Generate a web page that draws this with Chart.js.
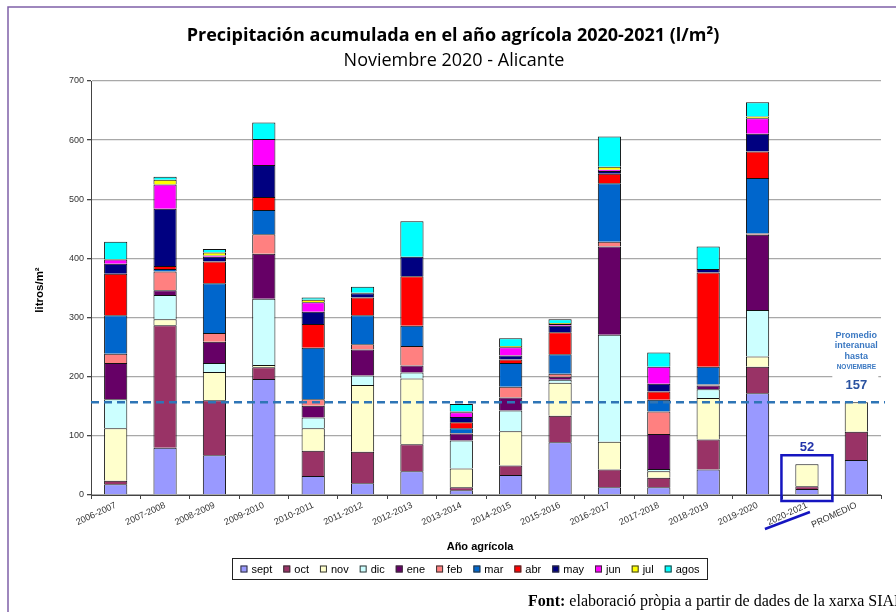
<!DOCTYPE html>
<html>
<head>
<meta charset="utf-8">
<script src="https://cdn.jsdelivr.net/npm/chart.js@4.4.1/dist/chart.umd.min.js"></script>
<style>
html,body{margin:0;padding:0;background:#fff;}
canvas{display:block;}
</style>
</head>
<body>
<canvas id="c" width="896" height="612"></canvas>
<script>
// ---- DATA ----
const categories = ['2006-2007','2007-2008','2008-2009','2009-2010','2010-2011','2011-2012','2012-2013','2013-2014','2014-2015','2015-2016','2016-2017','2017-2018','2018-2019','2019-2020','2020-2021','PROMEDIO'];
const months = ['sept','oct','nov','dic','ene','feb','mar','abr','may','jun','jul','agos'];
const sept = [18, 80, 67, 196, 32, 20, 40, 8, 34, 89, 13, 13, 43, 172, 10, 59];
const oct  = [6, 207, 93, 20, 43, 53, 46, 5, 16, 45, 30, 16, 51, 45, 5, 48];
const nov  = [89, 10, 48, 4, 38, 113, 111, 32, 58, 56, 47, 11, 70, 17, 37, 50];
const dic  = [49, 41, 15, 112, 18, 16, 10, 47, 35, 5, 181, 4, 15, 79, null, null];
const ene  = [61, 8, 36, 76, 20, 44, 12, 12, 22, 5, 149, 59, 6, 127, null, null];
const feb  = [16, 32, 15, 33, 11, 9, 33, 1, 18, 5, 8, 38, 2, 2, null, null];
const mar  = [65, 4, 84, 41, 87, 49, 34, 8, 40, 33, 99, 20, 30, 94, null, null];
const abr  = [70, 5, 37, 22, 40, 30, 84, 10, 6, 37, 16, 14, 159, 45, null, null];
const may  = [17, 97, 8, 54, 21, 7, 33, 9, 7, 11, 5, 13, 6, 30, null, null];
const jun  = [7, 41, 2, 44, 16, 1, 0, 8, 14, 3, 2, 29, 0, 26, null, null];
const jul  = [1, 8, 5, 0, 4, 0, 0, 1, 2, 2, 5, 0, 0, 3, null, null];
const agos = [29, 5, 6, 28, 4, 10, 60, 13, 13, 6, 51, 24, 38, 24, null, null];
const promedioHastaNov = 157;
const actualLabel = 52;
const yTicks = [0,100,200,300,400,500,600,700];

const seriesValues = [sept, oct, nov, dic, ene, feb, mar, abr, may, jun, jul, agos];
const colors = ['#9999FF','#993366','#FFFFCC','#CCFFFF','#660066','#FF8080','#0066CC','#FF0000','#000080','#FF00FF','#FFFF00','#00FFFF'];

const datasets = months.map((m, i) => ({
  label: m,
  data: seriesValues[i],
  backgroundColor: colors[i],
  borderColor: '#111',
  borderWidth: 1,
  categoryPercentage: 1.0,
  barPercentage: 0.47
}));

const decor = {
  id: 'decor',
  beforeDraw(chart) {
    const c = chart.ctx;
    c.save();
    c.fillStyle = '#fff';
    c.fillRect(0, 0, chart.width, chart.height);
    c.strokeStyle = '#7F60A8';
    c.lineWidth = 1.5;
    c.beginPath();
    c.moveTo(8, 612); c.lineTo(8, 7); c.lineTo(896, 7);
    c.stroke();
    c.restore();
  },
  afterDatasetsDraw(chart) {
    const c = chart.ctx;
    const xs = chart.scales.x, ys = chart.scales.y;
    const ca = chart.chartArea;
    const yAvg = ys.getPixelForValue(promedioHastaNov);
    const base = ys.getPixelForValue(0);
    c.save();
    const xp = xs.getPixelForValue(15);
    c.fillStyle = '#fff';
    c.fillRect(xp - 24, ys.getPixelForValue(200) - 2, 46, 4);
    c.strokeStyle = '#2E75B6';
    c.lineWidth = 2.5;
    c.setLineDash([8, 5]);
    c.beginPath();
    c.moveTo(ca.left, yAvg);
    c.lineTo(ca.right + 4, yAvg);
    c.stroke();
    c.setLineDash([]);
    c.textAlign = 'center';
    c.textBaseline = 'middle';
    c.fillStyle = '#3A78C2';
    c.font = 'bold 9px "Liberation Sans", Arial, sans-serif';
    c.fillText('Promedio', xp, yAvg - 67);
    c.fillText('interanual', xp, yAvg - 57);
    c.fillText('hasta', xp, yAvg - 46);
    c.font = 'bold 6.5px "Liberation Sans", Arial, sans-serif';
    c.fillText('NOVIEMBRE', xp, yAvg - 35);
    c.fillStyle = '#2A52A0';
    c.font = 'bold 13px "Liberation Sans", Arial, sans-serif';
    c.fillText(String(promedioHastaNov), xp, yAvg - 17);
    const xc = xs.getPixelForValue(14);
    const yTop = ys.getPixelForValue(actualLabel);
    c.fillStyle = '#2233AA';
    c.fillText(String(actualLabel), xc, yTop - 17);
    c.strokeStyle = '#1515C0';
    c.lineWidth = 2.5;
    c.strokeRect(xc - 25.5, yTop - 9, 51, base - yTop + 15);
    c.beginPath();
    c.moveTo(xc - 42, base + 34);
    c.lineTo(xc + 3, base + 17);
    c.stroke();
    c.restore();
  },
  afterDraw(chart) {
    const c = chart.ctx;
    c.save();
    c.fillStyle = '#000';
    c.textAlign = 'center';
    c.textBaseline = 'middle';
    c.font = 'bold 18px "Open Sans", Lato, sans-serif';
    c.fillText('Precipitación acumulada en el año agrícola 2020-2021 (l/m²)', 453, 36);
    c.font = '18px "Open Sans", Lato, sans-serif';
    c.fillText('Noviembre 2020 - Alicante', 454, 61);
    c.font = 'bold 11px "Liberation Sans", Arial, sans-serif';
    c.fillText('Año agrícola', 480, 547);
    c.save();
    c.translate(40, 290);
    c.rotate(-Math.PI / 2);
    c.font = 'bold 11.5px "Liberation Sans", Arial, sans-serif';
    c.fillText('litros/m²', 0, 0);
    c.restore();
    // legend
    c.font = '11px "Liberation Sans", Arial, sans-serif';
    c.textAlign = 'left';
    const box = 7, gapTxt = 4, gap = 11;
    const items = chart.data.datasets.map(d => ({ label: d.label, color: d.backgroundColor, w: box + gapTxt + c.measureText(d.label).width }));
    const total = items.reduce((s, it) => s + it.w, 0) + gap * (items.length - 1);
    const cx = 470, cy = 569;
    let x = cx - total / 2;
    c.strokeStyle = '#222';
    c.lineWidth = 1;
    c.strokeRect(Math.round(x - 8) + 0.5, 558.5, Math.round(total + 16), 21);
    items.forEach(it => {
      c.fillStyle = it.color;
      c.fillRect(x, cy - 3.5, box, box);
      c.strokeStyle = '#333';
      c.strokeRect(x + 0.5, cy - 3.5 + 0.5, box - 1, box - 1);
      c.fillStyle = '#000';
      c.fillText(it.label, x + box + gapTxt, cy + 0.5);
      x += it.w + gap;
    });
    // footer
    c.textBaseline = 'alphabetic';
    c.font = 'bold 16px "Liberation Serif", "Times New Roman", serif';
    c.fillText('Font:', 528, 606);
    const fw = c.measureText('Font: ').width;
    c.font = '16px "Liberation Serif", "Times New Roman", serif';
    c.fillText('elaboració pròpia a partir de dades de la xarxa SIAR', 528 + fw, 606);
    c.restore();
  }
};

new Chart(document.getElementById('c'), {
  type: 'bar',
  data: { labels: categories, datasets },
  options: {
    responsive: false,
    animation: false,
    devicePixelRatio: 1,
    layout: { padding: { left: 0, right: 15, top: 81, bottom: 0 } },
    plugins: { legend: { display: false }, title: { display: false }, tooltip: { enabled: false } },
    scales: {
      x: {
        stacked: true,
        afterFit(s) { s.height = 117; },
        grid: { display: true, drawOnChartArea: false, drawTicks: true, tickLength: 4, color: '#444', offset: true },
        border: { display: true, color: '#444', width: 1 },
        ticks: { autoSkip: false, maxRotation: 25, minRotation: 25, padding: 1, color: '#333', font: { family: '"Liberation Sans", Arial, sans-serif', size: 9 } }
      },
      y: {
        stacked: true,
        min: 0, max: 700,
        afterFit(s) { s.width = 91; },
        afterBuildTicks(s) { s.ticks = yTicks.map(v => ({ value: v })); },
        grid: { color: '#A8A8A8', lineWidth: 1.3, tickLength: 4, tickColor: '#444' },
        border: { display: true, color: '#444', width: 1 },
        ticks: { padding: 3, color: '#333', font: { family: '"Liberation Sans", Arial, sans-serif', size: 9 } }
      }
    }
  },
  plugins: [decor]
});
</script>
</body>
</html>
